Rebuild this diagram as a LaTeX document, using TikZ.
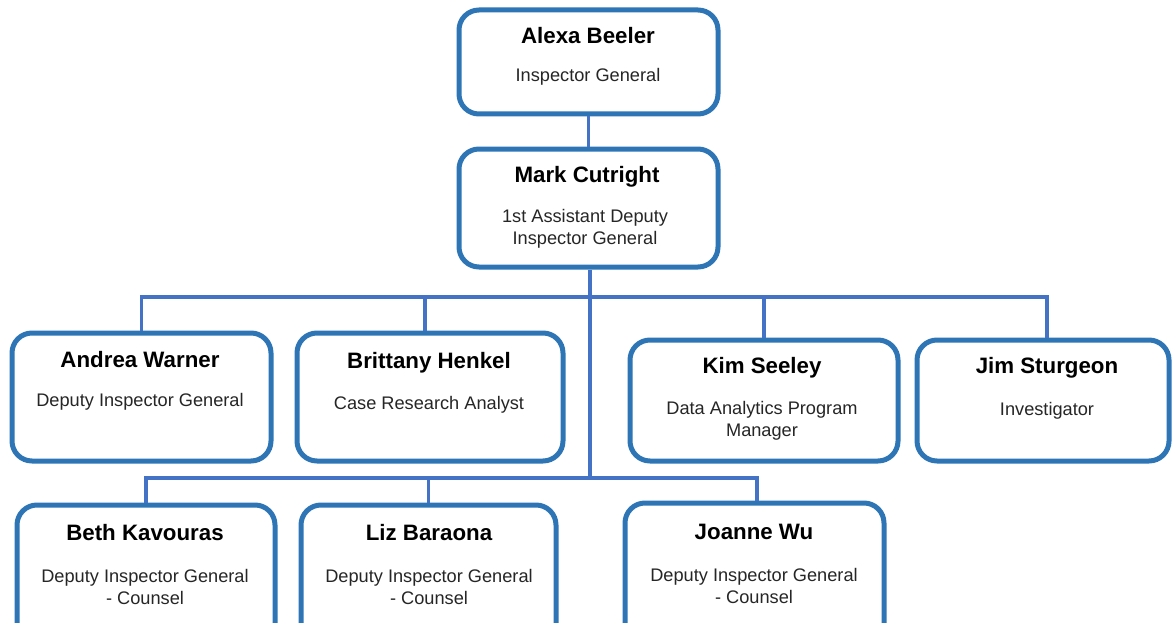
\documentclass[tikz,border=0pt]{standalone}
\usepackage{fontspec}
\setmainfont{Liberation Sans}
\definecolor{boxblue}{HTML}{2E75B6}
\definecolor{lineblue}{HTML}{4472C4}
\begin{document}
\begin{tikzpicture}[x=1pt,y=-1pt,
  box/.style={draw=boxblue, line width=5pt, rounded corners=20pt, fill=white, inner sep=0pt},
  conn/.style={draw=lineblue, line width=3.5pt},
  nm/.style={font=\fontsize{22.3}{26}\selectfont\bfseries, inner sep=0pt},
  tt/.style={font=\fontsize{18.2}{22}\selectfont, align=center, inner sep=0pt, text=black!85}]
\useasboundingbox (0,0) rectangle (1172,623);
\coordinate (upbar) at (0,297);
\coordinate (lowbar) at (0,478);
\coordinate (cx) at (590,0);
% boxes
\node[box, minimum width=259pt, minimum height=104pt] (alexa) at (588.5,62) {};
\node[box, minimum width=259pt, minimum height=118pt] (mark) at (588.5,208) {};
\node[box, minimum width=259pt, minimum height=128pt] (andrea) at (141.5,397) {};
\node[box, minimum width=266pt, minimum height=128pt] (brittany) at (430,397) {};
\node[box, minimum width=268pt, minimum height=121pt] (kim) at (764,400.5) {};
\node[box, minimum width=252pt, minimum height=121pt] (jim) at (1043,400.5) {};
\node[box, minimum width=258pt, minimum height=140pt] (beth) at (146,575) {};
\node[box, minimum width=255pt, minimum height=140pt] (liz) at (428.5,575) {};
\node[box, minimum width=259pt, minimum height=140pt] (joanne) at (754.5,573) {};
% connection points on the boxes
\coordinate (brittanyTop) at ([xshift=-5pt]brittany.north);
\coordinate (jimTop) at ([xshift=4pt]jim.north);
\coordinate (joanneTop) at ([xshift=2.5pt]joanne.north);
% connectors
\draw[conn] (alexa.south) -- (mark.north);
\draw[conn] (mark.south -| cx) -- (cx |- lowbar);
\draw[conn] (andrea.north) -- (andrea.north |- upbar) -- (jimTop |- upbar) -- (jimTop);
\draw[conn] (brittanyTop) -- (brittanyTop |- upbar);
\draw[conn] (kim.north) -- (kim.north |- upbar);
\draw[conn] (beth.north) -- (beth.north |- lowbar) -- (joanneTop |- lowbar) -- (joanneTop);
\draw[conn] (liz.north) -- (liz.north |- lowbar);
% texts
\node[nm] (alexaN) at (588,36) {Alexa Beeler};
\node[tt] (alexaT) at (588,77) {Inspector General};
\node[nm] (markN) at (587,177) {Mark Cutright};
\node[tt] (markT) at (585,229) {1st Assistant Deputy\\Inspector General};
\node[nm] (andreaN) at (140,360) {Andrea Warner};
\node[tt] (andreaT) at (140,402) {Deputy Inspector General};
\node[nm] (brittanyN) at (429,363) {Brittany Henkel};
\node[tt] (brittanyT) at (429,405) {Case Research Analyst};
\node[nm] (kimN) at (762,368) {Kim Seeley};
\node[tt] (kimT) at (762,421) {Data Analytics Program\\Manager};
\node[nm] (jimN) at (1047,368) {Jim Sturgeon};
\node[tt] (jimT) at (1047,411) {Investigator};
\node[nm] (bethN) at (145,533) {Beth Kavouras};
\node[tt] (bethT) at (145,587) {Deputy Inspector General\\- Counsel};
\node[nm] (lizN) at (429,533) {Liz Baraona};
\node[tt] (lizT) at (429,587) {Deputy Inspector General\\- Counsel};
\node[nm] (joanneN) at (754,532) {Joanne Wu};
\node[tt] (joanneT) at (754,586) {Deputy Inspector General\\- Counsel};
\end{tikzpicture}
\end{document}
